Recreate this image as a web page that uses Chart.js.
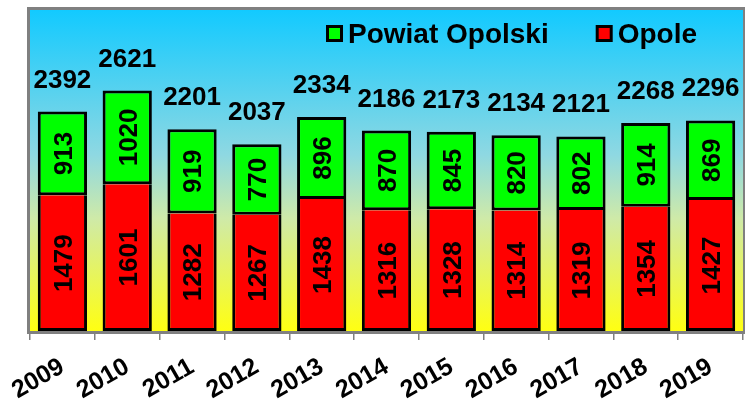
<!DOCTYPE html>
<html>
<head>
<meta charset="utf-8">
<script src="https://cdn.jsdelivr.net/npm/chart.js@4.4.1/dist/chart.umd.min.js"></script>
<style>
html, body { margin: 0; padding: 0; background: #fff; }
#wrap { width: 745px; height: 403px; }
</style>
</head>
<body>
<div id="wrap"><canvas id="myChart" width="745" height="403"></canvas></div>
<script>
//Dane wykresu
const lata = ["2009", "2010", "2011", "2012", "2013", "2014", "2015", "2016", "2017", "2018", "2019"];
const opole = [1479, 1601, 1282, 1267, 1438, 1316, 1328, 1314, 1319, 1354, 1427];
const powiat = [913, 1020, 919, 770, 896, 870, 845, 820, 802, 914, 869];
const nazwy = ["Opole", "Powiat Opolski"];
const kolory = ["#ff0000", "#00ff00"];

const FONT = "'Liberation Sans', Arial, sans-serif";

//Tlo z gradientem i ramka
const tlo = {
  id: "tlo",
  beforeDraw(chart) {
    const { ctx, chartArea: a } = chart;
    ctx.save();
    ctx.fillStyle = "#fff";
    ctx.fillRect(0, 0, chart.width, chart.height);
    const g = ctx.createLinearGradient(0, a.top, 0, a.bottom);
    g.addColorStop(0, "#12caff");
    g.addColorStop(0.45, "#8ed8e2");
    g.addColorStop(0.65, "#cfeaa8");
    g.addColorStop(1, "#ffff12");
    ctx.fillStyle = g;
    ctx.fillRect(a.left, a.top, a.right - a.left, a.bottom - a.top);
    ctx.restore();
  },
  beforeDatasetsDraw(chart) {
    const { ctx, chartArea: a } = chart;
    ctx.save();
    ctx.strokeStyle = "#808080";
    ctx.lineWidth = 3;
    ctx.strokeRect(a.left - 1.5, a.top - 1.5, a.right - a.left + 3, a.bottom - a.top + 3);
    ctx.restore();
  }
};

//Etykiety wartosci i sumy
const napisy = {
  id: "napisy",
  afterDatasetsDraw(chart) {
    const ctx = chart.ctx;
    const size = 26;
    const cap = size * 0.716;
    ctx.save();
    ctx.fillStyle = "#000";
    ctx.font = "bold " + size + "px " + FONT;
    ctx.textAlign = "center";
    ctx.textBaseline = "alphabetic";
    chart.data.datasets.forEach((ds, d) => {
      chart.getDatasetMeta(d).data.forEach((el, i) => {
        ctx.save();
        ctx.translate(el.x, (el.y + el.base) / 2);
        ctx.rotate(-Math.PI / 2);
        ctx.fillText(ds.data[i], 0, cap / 2);
        ctx.restore();
      });
    });
    chart.getDatasetMeta(1).data.forEach((el, i) => {
      ctx.fillText(opole[i] + powiat[i], el.x, el.y - 24);
    });
    ctx.restore();
  }
};

//Legenda
const legenda = {
  id: "legenda",
  afterDraw(chart) {
    const { ctx, chartArea: a } = chart;
    const kol = [1, 0];
    let x = a.left + 296;
    const y = 33;
    ctx.save();
    ctx.font = "bold 28px " + FONT;
    ctx.textBaseline = "alphabetic";
    kol.forEach((d) => {
      ctx.fillStyle = "#000";
      ctx.fillRect(x, y - 8, 17, 17);
      ctx.fillStyle = kolory[d];
      ctx.fillRect(x + 3, y - 5, 11, 11);
      x += 22;
      ctx.fillStyle = "#000";
      ctx.fillText(nazwy[d], x, y + 10);
      x += ctx.measureText(nazwy[d]).width + 47;
    });
    ctx.restore();
  }
};

const ctx = document.getElementById("myChart").getContext("2d");
const wykres = new Chart(ctx, {
  type: "bar",
  data: {
    labels: lata,
    datasets: [
      {
        label: nazwy[0],
        data: opole,
        backgroundColor: kolory[0],
        borderColor: "#000",
        borderWidth: { top: 0, left: 3, right: 3, bottom: 3 },
        borderSkipped: false,
      },
      {
        label: nazwy[1],
        data: powiat,
        backgroundColor: kolory[1],
        borderColor: "#000",
        borderWidth: 3,
        borderSkipped: false,
      },
    ],
  },
  options: {
    responsive: false,
    devicePixelRatio: 1,
    animation: false,
    layout: { padding: { left: 30, right: 2, top: 10, bottom: 0 } },
    datasets: { bar: { categoryPercentage: 1, barPercentage: 0.76 } },
    plugins: {
      legend: { display: false },
      tooltip: { enabled: false },
    },
    scales: {
      x: {
        stacked: true,
        grid: {
          drawOnChartArea: false,
          drawTicks: true,
          tickLength: 9,
          color: "#808080",
          lineWidth: 1.5,
        },
        border: { display: false },
        ticks: {
          autoSkip: false,
          minRotation: 30,
          maxRotation: 30,
          padding: 12,
          color: "#000",
          font: { family: FONT, size: 25, weight: "bold" },
        },
        afterFit: (scale) => {
          scale.height = 72;
        },
      },
      y: {
        stacked: true,
        display: false,
        min: 0,
        max: 3500,
      },
    },
  },
  plugins: [tlo, napisy, legenda],
});
</script>
</body>
</html>
